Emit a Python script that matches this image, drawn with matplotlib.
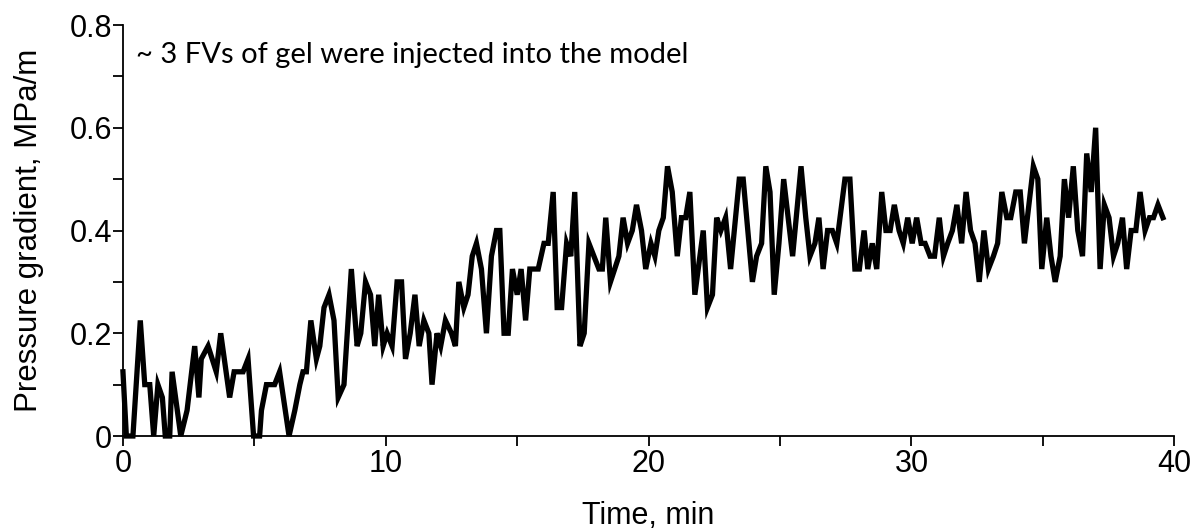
import matplotlib.pyplot as plt
from matplotlib.ticker import MultipleLocator

plt.rcParams['font.family'] = ['Liberation Sans', 'DejaVu Sans']

# time (min) and pressure gradient (MPa/m)
time_min = [
    0.00, 0.13, 0.38, 0.66, 0.83, 1.02, 1.17, 1.33, 1.50, 1.61,
    1.78, 1.87, 2.20, 2.44, 2.73, 2.89, 2.98, 3.24, 3.55, 3.72,
    4.06, 4.23, 4.57, 4.76, 4.97, 5.20, 5.27, 5.46, 5.77, 5.96,
    6.32, 6.54, 6.73, 6.85, 6.98, 7.15, 7.36, 7.49, 7.65, 7.84,
    8.03, 8.19, 8.41, 8.69, 8.91, 9.05, 9.23, 9.42, 9.58, 9.73,
    9.90, 10.05, 10.24, 10.43, 10.60, 10.75, 10.93, 11.11, 11.27, 11.45,
    11.64, 11.76, 11.95, 12.09, 12.27, 12.50, 12.65, 12.78, 12.97, 13.13,
    13.29, 13.45, 13.64, 13.83, 14.02, 14.21, 14.34, 14.50, 14.66, 14.82,
    15.00, 15.15, 15.32, 15.48, 15.64, 15.80, 16.02, 16.18, 16.37, 16.52,
    16.69, 16.88, 17.04, 17.19, 17.39, 17.55, 17.73, 17.92, 18.11, 18.24,
    18.37, 18.55, 18.71, 18.87, 19.03, 19.20, 19.38, 19.54, 19.73, 19.89,
    20.09, 20.24, 20.39, 20.56, 20.72, 20.90, 21.09, 21.25, 21.41, 21.57,
    21.76, 22.08, 22.24, 22.43, 22.59, 22.75, 22.93, 23.12, 23.45, 23.60,
    23.95, 24.11, 24.30, 24.46, 24.62, 24.78, 24.96, 25.14, 25.48, 25.80,
    25.98, 26.14, 26.33, 26.48, 26.64, 26.81, 26.99, 27.16, 27.47, 27.66,
    27.85, 28.02, 28.20, 28.34, 28.51, 28.68, 28.87, 29.03, 29.19, 29.35,
    29.53, 29.69, 29.86, 30.03, 30.20, 30.37, 30.52, 30.71, 30.88, 31.06,
    31.22, 31.38, 31.56, 31.73, 31.91, 32.08, 32.25, 32.42, 32.58, 32.76,
    32.93, 33.12, 33.28, 33.44, 33.63, 33.78, 33.97, 34.14, 34.30, 34.47,
    34.64, 34.81, 34.96, 35.15, 35.31, 35.47, 35.66, 35.82, 35.98, 36.16,
    36.33, 36.51, 36.67, 36.84, 37.01, 37.18, 37.34, 37.52, 37.69, 37.85,
    38.03, 38.19, 38.36, 38.54, 38.70, 38.89, 39.06, 39.21, 39.38, 39.57,
]
grad = [
    0.125, 0, 0, 0.225, 0.1, 0.1, 0, 0.1, 0.075, 0,
    0, 0.125, 0, 0.05, 0.175, 0.075, 0.15, 0.175, 0.125, 0.2,
    0.075, 0.125, 0.125, 0.15, 0, 0, 0.05, 0.1, 0.1, 0.125,
    0, 0.05, 0.1, 0.125, 0.125, 0.225, 0.15, 0.175, 0.25, 0.275,
    0.225, 0.075, 0.1, 0.325, 0.175, 0.2, 0.3, 0.275, 0.175, 0.275,
    0.175, 0.2, 0.175, 0.3, 0.3, 0.15, 0.2, 0.275, 0.175, 0.225,
    0.2, 0.1, 0.2, 0.175, 0.225, 0.2, 0.175, 0.3, 0.25, 0.275,
    0.35, 0.375, 0.325, 0.2, 0.35, 0.4, 0.4, 0.2, 0.2, 0.325,
    0.275, 0.325, 0.225, 0.325, 0.325, 0.325, 0.375, 0.375, 0.475, 0.25,
    0.25, 0.375, 0.35, 0.475, 0.175, 0.2, 0.375, 0.35, 0.325, 0.325,
    0.425, 0.3, 0.325, 0.35, 0.425, 0.375, 0.4, 0.45, 0.4, 0.325,
    0.375, 0.35, 0.4, 0.425, 0.525, 0.475, 0.35, 0.425, 0.425, 0.475,
    0.275, 0.4, 0.25, 0.275, 0.425, 0.4, 0.425, 0.325, 0.5, 0.5,
    0.3, 0.35, 0.375, 0.525, 0.475, 0.275, 0.375, 0.5, 0.35, 0.525,
    0.425, 0.35, 0.375, 0.425, 0.325, 0.4, 0.4, 0.375, 0.5, 0.5,
    0.325, 0.325, 0.4, 0.325, 0.375, 0.325, 0.475, 0.4, 0.4, 0.45,
    0.4, 0.375, 0.425, 0.375, 0.425, 0.375, 0.375, 0.35, 0.35, 0.425,
    0.35, 0.375, 0.4, 0.45, 0.375, 0.475, 0.4, 0.375, 0.3, 0.4,
    0.325, 0.35, 0.375, 0.475, 0.425, 0.425, 0.475, 0.475, 0.375, 0.45,
    0.525, 0.5, 0.325, 0.425, 0.35, 0.3, 0.35, 0.5, 0.425, 0.525,
    0.4, 0.35, 0.55, 0.475, 0.6, 0.325, 0.45, 0.425, 0.35, 0.375,
    0.425, 0.325, 0.4, 0.4, 0.475, 0.4, 0.425, 0.425, 0.45, 0.425,
]

fig = plt.figure(figsize=(11.96, 5.31), dpi=100)
ax = fig.add_axes([0.1028, 0.1789, 0.879, 0.774])

ax.plot(time_min, grad, color='black', lw=3.8, solid_joinstyle='miter', clip_on=False)

ax.set_xlim(0, 40)
ax.set_ylim(0, 0.8)
ax.xaxis.set_major_locator(MultipleLocator(10))
ax.xaxis.set_minor_locator(MultipleLocator(5))
ax.yaxis.set_major_locator(MultipleLocator(0.2))
ax.yaxis.set_minor_locator(MultipleLocator(0.1))
ax.yaxis.set_major_formatter(lambda v, p: '0' if v == 0 else f'{v:.1f}')
ax.tick_params(which='both', direction='out', length=7, width=1.3, labelsize=22)
ax.tick_params(axis='x', pad=2)
ax.tick_params(axis='y', pad=1)

ax.spines['top'].set_visible(False)
ax.spines['right'].set_visible(False)
ax.spines['left'].set_linewidth(1.3)
ax.spines['bottom'].set_linewidth(1.3)

ax.set_xlabel('Time, min', fontsize=22, labelpad=16)
ax.set_ylabel('Pressure gradient, MPa/m', fontsize=22.5, labelpad=18)

ax.text(0.5, 0.742, '~ 3 FVs of gel were injected into the model',
        fontsize=21, family=['Lato', 'DejaVu Sans'], va='center', ha='left')

fig.savefig('out.png', dpi=100)
